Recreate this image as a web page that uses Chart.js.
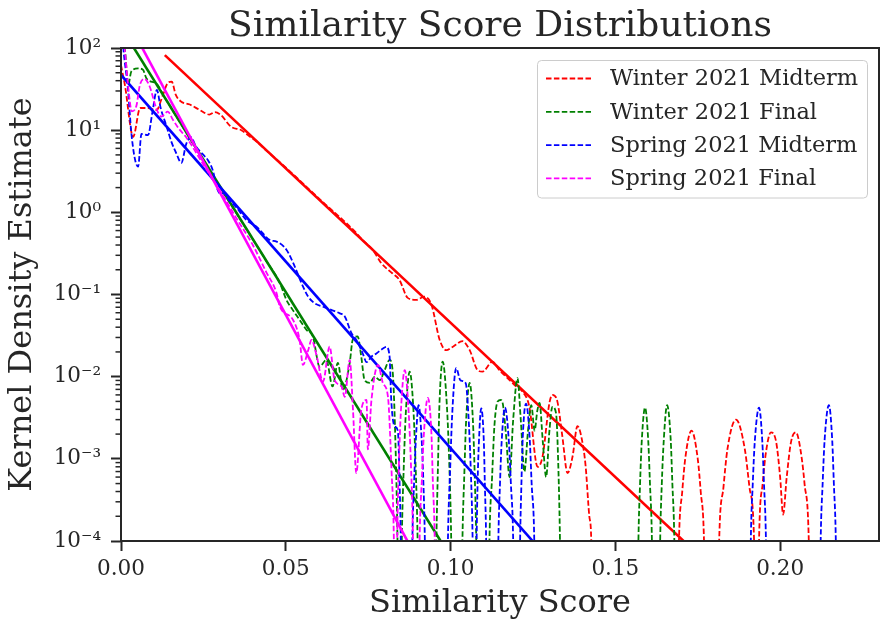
<!DOCTYPE html>
<html>
<head>
<meta charset="utf-8">
<script src="https://cdn.jsdelivr.net/npm/chart.js@4.4.1/dist/chart.umd.min.js"></script>
<style>
html,body{margin:0;padding:0;background:#ffffff;}
#wrap{width:882px;height:621px;position:relative;}
canvas{display:block;}
</style>
</head>
<body>
<div id="wrap"><canvas id="c" width="882" height="621"></canvas></div>
<script>
// ---------------- DATA ----------------
const titleText = 'Similarity Score Distributions';
const xTitle = 'Similarity Score';
const yTitle = 'Kernel Density Estimate';
const seriesNames = ['Winter 2021 Midterm', 'Winter 2021 Final', 'Spring 2021 Midterm', 'Spring 2021 Final'];
const seriesColors = ['#ff0000', '#008000', '#0000ff', '#ff00ff'];

const xTickValues = [0, 0.05, 0.10, 0.15, 0.20];
const yMajorTicks = [1e-4, 1e-3, 1e-2, 1e-1, 1, 10, 100];
const yTickLabels = ['10\u207B\u2074', '10\u207B\u00B3', '10\u207B\u00B2', '10\u207B\u00B9', '10\u2070', '10\u00B9', '10\u00B2'];

// KDE curves [score, density]; 1e-6 marks density that falls below the axis
const kdeW21Midterm = [
[0.0000,62],[0.0012,35],[0.0037,8.3],[0.0058,18.6],[0.0082,18.6],[0.0108,17.6],[0.0127,26.8],[0.0142,37.5],
[0.0154,38.9],[0.0166,27],[0.0181,22.5],[0.0209,20.5],[0.0239,17.6],[0.0268,15.5],[0.0285,16.6],[0.0303,15.3],
[0.0334,11.0],[0.0365,10.0],[0.0385,8.7],[0.0416,7.0],[0.0442,5.6],[0.0472,4.4],[0.0492,3.75],[0.0542,2.45],
[0.0573,1.87],[0.0620,1.25],[0.0673,0.81],[0.0714,0.56],[0.0733,0.46],[0.0764,0.35],[0.0790,0.24],[0.0824,0.18],
[0.0845,0.15],[0.0870,0.091],[0.0896,0.086],[0.0921,0.094],[0.0942,0.075],[0.0967,0.028],[0.0987,0.021],[0.1006,0.023],
[0.1036,0.027],[0.1058,0.021],[0.1082,0.012],[0.1097,0.0115],[0.1127,0.0152],[0.1148,0.012],[0.1179,0.0091],[0.1199,0.0076],
[0.1218,0.0066],[0.1239,0.0043],[0.1264,0.0008],[0.1279,0.00106],[0.1300,0.0048],[0.1309,0.0060],[0.1324,0.0050],[0.1339,0.0019],
[0.1355,0.00067],[0.1370,0.00106],[0.1385,0.0025],[0.1400,0.0016],[0.1410,0.0008],[0.1421,0.0002],[0.1427,0.0001],[0.1433,0.000001],
[0.1685,0.000001],[0.1693,0.0001],[0.1703,0.0004],[0.1712,0.0010],[0.1731,0.0022],[0.1750,0.0010],[0.1759,0.0004],[0.1769,0.0001],[0.1777,0.000001],
[0.1807,0.000001],[0.1815,0.0001],[0.1828,0.00045],[0.1840,0.0013],[0.1866,0.0030],[0.1893,0.0013],[0.1907,0.00045],[0.1921,0.0001],[0.1928,0.000001],
[0.1930,0.000001],[0.1936,0.0001],[0.1947,0.0005],[0.1957,0.0012],[0.1972,0.0021],[0.1988,0.0016],[0.2000,0.0006],[0.2009,0.00021],
[0.2020,0.0006],[0.2033,0.0016],[0.2048,0.0021],[0.2063,0.0012],[0.2074,0.0005],[0.2087,0.0001],[0.2095,0.000001],[0.2300,0.000001]
];

const kdeW21Final = [
[0.0000,160],[0.0012,95],[0.0022,35.5],[0.0031,51.5],[0.0052,56.6],[0.0067,54.0],[0.0077,42.8],[0.0092,38.9],[0.0107,37.2],
[0.0130,26],[0.0160,16.5],[0.0200,9.1],[0.0250,4.3],[0.0300,2.05],[0.0350,0.98],[0.0400,0.47],[0.0440,0.26],[0.0482,0.138],
[0.0502,0.086],[0.0521,0.065],[0.0542,0.049],[0.0563,0.037],[0.0582,0.031],[0.0603,0.0132],[0.0623,0.016],[0.0642,0.0076],
[0.0658,0.0147],[0.0673,0.0069],[0.0694,0.0147],[0.0703,0.028],[0.0718,0.031],[0.0729,0.0175],[0.0739,0.0091],[0.0755,0.0084],
[0.0770,0.0100],[0.0785,0.0091],[0.0800,0.012],[0.0815,0.016],[0.0824,0.012],[0.0832,0.002],[0.0839,0.0001],[0.0845,0.000001],
[0.0846,0.000001],[0.0852,0.0001],[0.0858,0.0008],[0.0864,0.0035],[0.0876,0.0115],[0.0888,0.0035],[0.0894,0.0008],[0.0900,0.0001],[0.0906,0.000001],
[0.0951,0.000001],[0.0957,0.0001],[0.0962,0.0009],[0.0966,0.0043],[0.0976,0.0152],[0.0989,0.0043],[0.0996,0.0009],[0.1002,0.0001],[0.1008,0.000001],
[0.1030,0.000001],[0.1036,0.0001],[0.1042,0.0007],[0.1047,0.0028],[0.1058,0.0084],[0.1068,0.0028],[0.1073,0.0007],[0.1078,0.0001],[0.1084,0.000001],
[0.1112,0.000001],[0.1118,0.0001],[0.1126,0.0006],[0.1133,0.0025],[0.1143,0.0050],[0.1152,0.0052],[0.1158,0.0048],[0.1168,0.0020],
[0.1179,0.0006],[0.1190,0.0030],[0.1203,0.0096],[0.1213,0.0030],[0.1224,0.0007],[0.1235,0.0022],[0.1245,0.0045],[0.1255,0.0022],
[0.1263,0.0038],[0.1270,0.0048],[0.1280,0.0016],[0.1290,0.0006],[0.1300,0.0022],[0.1309,0.0043],[0.1320,0.0036],[0.1327,0.0008],
[0.1332,0.0001],[0.1338,0.000001],
[0.1564,0.000001],[0.1570,0.0001],[0.1575,0.0005],[0.1580,0.0016],[0.1590,0.0042],[0.1600,0.0016],[0.1605,0.0005],[0.1611,0.0001],[0.1617,0.000001],
[0.1630,0.000001],[0.1636,0.0001],[0.1641,0.0005],[0.1647,0.0017],[0.1657,0.0045],[0.1668,0.0017],[0.1673,0.0005],[0.1679,0.0001],[0.1685,0.000001],
[0.2300,0.000001]
];

const kdeS21Midterm = [
[0.0000,250],[0.0007,100],[0.0021,32],[0.0031,9.6],[0.0042,4.5],[0.0052,3.6],[0.0062,9.0],[0.0082,8.7],[0.0095,16.2],
[0.0109,30.8],[0.0120,18.9],[0.0138,11.2],[0.0153,7.2],[0.0168,5.2],[0.0183,4.0],[0.0198,6.8],[0.0212,8.2],[0.0227,6.4],
[0.0248,5.1],[0.0264,4.3],[0.0279,3.2],[0.0290,2.05],[0.0300,1.71],[0.0315,1.70],[0.0320,1.55],[0.0350,1.15],[0.0381,0.80],
[0.0411,0.67],[0.0452,0.46],[0.0472,0.44],[0.0502,0.35],[0.0527,0.22],[0.0548,0.137],[0.0568,0.094],[0.0588,0.078],
[0.0613,0.071],[0.0638,0.065],[0.0664,0.059],[0.0679,0.054],[0.0699,0.034],[0.0714,0.028],[0.0734,0.019],[0.0745,0.015],
[0.0760,0.0175],[0.0775,0.0192],[0.0795,0.022],[0.0805,0.023],[0.0815,0.0175],[0.0820,0.0052],[0.0830,0.0025],[0.0840,0.0022],
[0.0846,0.0004],[0.0849,0.0001],[0.0854,0.000001],
[0.0878,0.000001],[0.0884,0.0001],[0.0890,0.0006],[0.0895,0.0018],[0.0903,0.0045],[0.0912,0.0018],[0.0917,0.0006],[0.0922,0.0001],[0.0928,0.000001],
[0.0986,0.000001],[0.0992,0.0001],[0.0999,0.0008],[0.1005,0.0035],[0.1017,0.0127],[0.1030,0.0090],[0.1046,0.0083],[0.1054,0.0035],[0.1061,0.0008],[0.1067,0.0001],[0.1073,0.000001],
[0.1074,0.000001],[0.1079,0.0001],[0.1082,0.0005],[0.1086,0.0016],[0.1093,0.0041],[0.1101,0.0016],[0.1104,0.0005],[0.1108,0.0001],[0.1113,0.000001],
[0.1139,0.000001],[0.1145,0.0001],[0.1150,0.0005],[0.1155,0.0016],[0.1165,0.0042],[0.1177,0.0016],[0.1183,0.0005],[0.1190,0.0001],[0.1196,0.000001],
[0.1205,0.000001],[0.1211,0.0001],[0.1215,0.0005],[0.1219,0.0018],[0.1229,0.0047],[0.1240,0.0018],[0.1246,0.0005],[0.1254,0.0001],[0.1260,0.000001],
[0.1905,0.000001],[0.1911,0.0001],[0.1917,0.0005],[0.1923,0.0016],[0.1936,0.0042],[0.1946,0.0016],[0.1951,0.0005],[0.1957,0.0001],[0.1963,0.000001],
[0.2117,0.000001],[0.2123,0.0001],[0.2129,0.0005],[0.2135,0.0017],[0.2148,0.0045],[0.2158,0.0017],[0.2163,0.0005],[0.2169,0.0001],[0.2175,0.000001],
[0.2300,0.000001]
];

const kdeS21Final = [
[0.0000,200],[0.0012,90],[0.0020,40],[0.0033,17],[0.0047,20],[0.0057,35],[0.0072,42],[0.0087,34],[0.0107,18.5],
[0.0122,14.6],[0.0142,16.8],[0.0158,13.3],[0.0175,10.5],[0.0200,8.0],[0.0250,3.8],[0.0300,1.85],[0.0350,0.85],[0.0400,0.40],
[0.0440,0.19],[0.0472,0.104],[0.0482,0.071],[0.0522,0.049],[0.0542,0.028],[0.0552,0.0139],[0.0568,0.021],[0.0578,0.028],
[0.0593,0.0184],[0.0613,0.0087],[0.0633,0.0232],[0.0648,0.0091],[0.0669,0.0076],[0.0679,0.0057],[0.0694,0.016],[0.0704,0.0039],
[0.0714,0.00067],[0.0729,0.0039],[0.0745,0.0052],[0.0749,0.0013],[0.0760,0.0052],[0.0780,0.0139],[0.0795,0.0083],[0.0810,0.0057],
[0.0821,0.0007],[0.0828,0.0001],[0.0833,0.000001],
[0.0834,0.000001],[0.0838,0.0001],[0.0843,0.0008],[0.0849,0.0036],[0.0861,0.012],[0.0873,0.0036],[0.0880,0.0008],[0.0886,0.0001],[0.0891,0.000001],
[0.0900,0.000001],[0.0906,0.0001],[0.0913,0.00057],[0.0919,0.0020],[0.0931,0.0055],[0.0942,0.0020],[0.0946,0.00057],[0.0952,0.0001],[0.0958,0.000001],
[0.2300,0.000001]
];

// exponential fits: [score, density] at the two ends of each straight line
const fitW21Midterm = [[0.0133, 82], [0.1750, 6.9e-5]];
const fitW21Final   = [[0.0000, 179], [0.0980, 8.6e-5]];
const fitS21Midterm = [[0.0000, 47], [0.1260, 8.9e-5]];
const fitS21Final   = [[0.0000, 303], [0.0880, 8.3e-5]];

// ---------------- CHART ----------------
const FONT = '"DejaVu Serif", "Liberation Serif", serif';
const INK = '#262626';
const kdes = [kdeW21Midterm, kdeW21Final, kdeS21Midterm, kdeS21Final];
const fits = [fitW21Midterm, fitW21Final, fitS21Midterm, fitS21Final];
const toPts = arr => arr.map(p => ({x: p[0], y: p[1]}));
const DASH = [5.5, 2.4];

const datasets = [];
let ord = 8;
for (let i = 0; i < 4; i++) {
  datasets.push({
    label: seriesNames[i], data: toPts(kdes[i]), borderColor: seriesColors[i],
    borderWidth: 1.8, borderDash: DASH, pointRadius: 0, fill: false,
    cubicInterpolationMode: 'monotone', order: ord--
  });
  datasets.push({
    label: seriesNames[i] + ' fit', data: toPts(fits[i]), borderColor: seriesColors[i],
    borderWidth: 2.6, pointRadius: 0, fill: false, tension: 0, order: ord--
  });
}

const isMajor = v => yMajorTicks.some(m => Math.abs(Math.log10(m) - Math.log10(v)) < 1e-6);
const yAllTicks = [];
yMajorTicks.forEach((m, i) => {
  yAllTicks.push(m);
  if (i < yMajorTicks.length - 1) for (let k = 2; k <= 9; k++) yAllTicks.push(m * k);
});

const decorPlugin = {
  id: 'decor',
  afterDatasetsDraw(chart) {
    const ctx = chart.ctx, a = chart.chartArea, ys = chart.scales.y;
    ctx.save();
    // frame
    ctx.strokeStyle = INK; ctx.lineWidth = 2; ctx.setLineDash([]);
    ctx.strokeRect(a.left, a.top, a.right - a.left, a.bottom - a.top);
    // minor ticks
    ctx.lineWidth = 1.5;
    yAllTicks.forEach(v => {
      if (isMajor(v)) return;
      const py = ys.getPixelForValue(v);
      ctx.beginPath(); ctx.moveTo(a.left - 5.5, py); ctx.lineTo(a.left, py); ctx.stroke();
    });
    // legend
    const bx = 537.5, by = 60.5, bw = 330, bh = 137.5, r = 4;
    ctx.beginPath();
    ctx.moveTo(bx + r, by); ctx.lineTo(bx + bw - r, by); ctx.arcTo(bx + bw, by, bx + bw, by + r, r);
    ctx.lineTo(bx + bw, by + bh - r); ctx.arcTo(bx + bw, by + bh, bx + bw - r, by + bh, r);
    ctx.lineTo(bx + r, by + bh); ctx.arcTo(bx, by + bh, bx, by + bh - r, r);
    ctx.lineTo(bx, by + r); ctx.arcTo(bx, by, bx + r, by, r); ctx.closePath();
    ctx.fillStyle = 'rgba(255,255,255,0.8)'; ctx.fill();
    ctx.strokeStyle = '#cccccc'; ctx.lineWidth = 1; ctx.stroke();
    ctx.font = '22.5px ' + FONT; ctx.textBaseline = 'middle'; ctx.textAlign = 'left';
    seriesNames.forEach((name, i) => {
      const ly = 78.5 + i * 33.3;
      ctx.strokeStyle = seriesColors[i]; ctx.lineWidth = 1.8; ctx.setLineDash(DASH);
      ctx.beginPath(); ctx.moveTo(546, ly); ctx.lineTo(592, ly); ctx.stroke();
      ctx.setLineDash([]);
      ctx.fillStyle = INK; ctx.fillText(name, 610, ly + 1);
    });
    // title
    ctx.font = '36px ' + FONT; ctx.textAlign = 'center'; ctx.textBaseline = 'alphabetic';
    ctx.fillStyle = INK; ctx.fillText(titleText, (a.left + a.right) / 2, 36);
    ctx.restore();
  }
};

new Chart(document.getElementById('c'), {
  type: 'line',
  data: { datasets },
  plugins: [decorPlugin],
  options: {
    responsive: false, animation: false, devicePixelRatio: 1,
    layout: { padding: { top: 48, right: 3, left: 0, bottom: 0 } },
    plugins: { legend: { display: false }, tooltip: { enabled: false }, title: { display: false } },
    scales: {
      x: {
        type: 'linear', min: 0, max: 0.23,
        afterFit: s => { s.height = 80; },
        afterBuildTicks: s => { s.ticks = xTickValues.map(v => ({ value: v })); },
        ticks: { callback: v => Number(v).toFixed(2), font: { family: FONT, size: 21.5 }, color: INK, padding: 6, maxRotation: 0, autoSkip: false },
        grid: { drawOnChartArea: false, drawTicks: true, tickLength: 10, tickColor: INK, tickWidth: 2 },
        border: { display: false },
        title: { display: true, text: xTitle, color: INK, font: { family: FONT, size: 32, lineHeight: 1.0 }, padding: { top: 0, bottom: 1 } }
      },
      y: {
        type: 'logarithmic', min: 1e-4, max: 100,
        afterFit: s => { s.width = 121; },
        afterBuildTicks: s => { s.ticks = yAllTicks.map(v => ({ value: v })); },
        ticks: {
          autoSkip: false, font: { family: FONT, size: 21.5 }, color: INK, padding: 10,
          callback: (v) => { const i = yMajorTicks.findIndex(m => Math.abs(Math.log10(m) - Math.log10(v)) < 1e-6); return i >= 0 ? yTickLabels[i] : ''; }
        },
        grid: { drawOnChartArea: false, drawTicks: true, tickLength: 10, tickWidth: 2,
          tickColor: c => (c.tick && isMajor(c.tick.value)) ? INK : 'rgba(0,0,0,0)' },
        border: { display: false },
        title: { display: true, text: yTitle, color: INK, font: { family: FONT, size: 32 }, padding: { top: 3, bottom: 0 } }
      }
    }
  }
});
</script>
</body>
</html>
